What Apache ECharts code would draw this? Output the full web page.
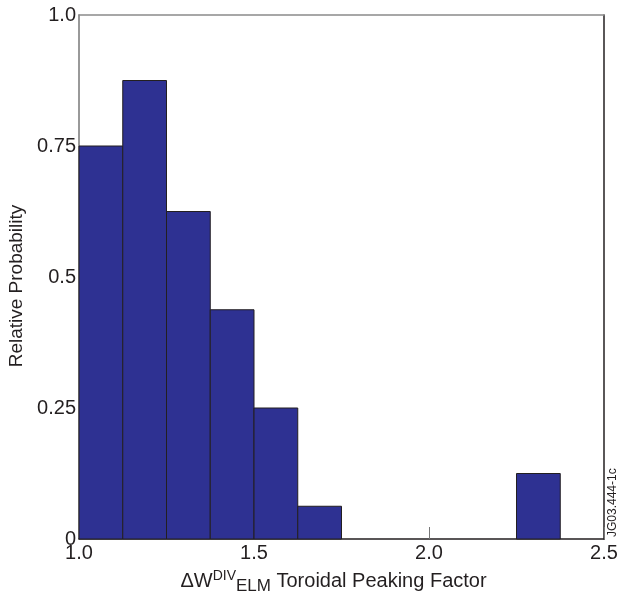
<!DOCTYPE html>
<html>
<head>
<meta charset="utf-8">
<script src="https://cdn.jsdelivr.net/npm/echarts@6/dist/echarts.min.js"></script>
<style>
  html, body { margin: 0; padding: 0; background: #fff; }
  #chart { width: 621px; height: 593px; }
</style>
</head>
<body>
<div id="chart"></div>
<script>
// Histogram bins of the toroidal peaking factor: left edge, right edge, relative probability
const binStart = [1.0, 1.125, 1.25, 1.375, 1.5, 1.625, 2.25];
const binEnd   = [1.125, 1.25, 1.375, 1.5, 1.625, 1.75, 2.375];
const probability = [0.75, 0.875, 0.625, 0.4375, 0.25, 0.0625, 0.125];

const xTicks = [1.0, 1.5, 2.0, 2.5];
const yTickLabels = { 0: '0', 0.25: '0.25', 0.5: '0.5', 0.75: '0.75', 1: '1.0' };

const FONT = '"Liberation Sans", Arial, Helvetica, sans-serif';
const INK = '#231f20';
const barData = binStart.map((s, i) => [s, binEnd[i], probability[i]]);

const chart = echarts.init(document.getElementById('chart'), null, { renderer: 'canvas' });

chart.setOption({
  animation: false,
  backgroundColor: '#ffffff',
  grid: { left: 79, right: 17, top: 15, bottom: 54, containLabel: false, outerBoundsMode: 'none' },
  xAxis: [{
    type: 'value', min: 1.0, max: 2.5, interval: 0.5,
    axisLine: { lineStyle: { color: INK, width: 1.5 } },
    axisTick: { inside: true, length: 12, lineStyle: { color: '#777', width: 1 } },
    splitLine: { show: false },
    axisLabel: {
      margin: 4, fontFamily: FONT, fontSize: 20, color: INK,
      formatter: v => xTicks.includes(v) ? v.toFixed(1) : ''
    },
    name: '{n|ΔW}{sup|DIV}{sub|ELM}{n| Toroidal Peaking Factor}',
    nameLocation: 'middle', nameGap: 28,
    nameTextStyle: {
      fontFamily: FONT, color: INK, padding: [0, 16, 0, 0],
      rich: {
        n: { fontFamily: FONT, fontSize: 20, color: INK },
        sup: { fontFamily: FONT, fontSize: 14, color: INK, padding: [0, 0, 9, 0] },
        sub: { fontFamily: FONT, fontSize: 17, color: INK, padding: [11, 0, 0, 0] }
      }
    }
  }, {
    type: 'value', min: 1.0, max: 2.5, position: 'top',
    axisLine: { show: true, onZero: false, lineStyle: { color: '#8a8a8a', width: 1.5 } },
    axisTick: { show: false }, axisLabel: { show: false }, splitLine: { show: false }
  }],
  yAxis: [{
    type: 'value', min: 0, max: 1, interval: 0.25,
    axisLine: { show: true, onZero: false, lineStyle: { color: '#777', width: 1.5 } },
    axisTick: { show: false },
    splitLine: { show: false },
    axisLabel: {
      margin: 3, fontFamily: FONT, fontSize: 20, color: INK,
      formatter: v => yTickLabels[v] !== undefined ? yTickLabels[v] : ''
    },
    name: 'Relative Probability', nameLocation: 'middle', nameGap: 52,
    nameTextStyle: { fontFamily: FONT, fontSize: 19, color: INK, padding: [0, 18, 0, 0] }
  }, {
    type: 'value', min: 0, max: 1, position: 'right',
    axisLine: { show: true, onZero: false, lineStyle: { color: INK, width: 1.5 } },
    axisTick: { show: false }, axisLabel: { show: false }, splitLine: { show: false }
  }],
  series: [{
    type: 'custom',
    xAxisIndex: 0, yAxisIndex: 0,
    data: barData,
    encode: { x: [0, 1], y: 2 },
    renderItem: function (params, api) {
      const p0 = api.coord([api.value(0), api.value(2)]);
      const p1 = api.coord([api.value(1), 0]);
      return {
        type: 'rect',
        shape: { x: p0[0], y: p0[1], width: p1[0] - p0[0], height: p1[1] - p0[1] },
        style: { fill: '#2e3192', stroke: INK, lineWidth: 1 }
      };
    }
  }],
  graphic: [{
    type: 'text', x: 607, y: 537, rotation: Math.PI / 2, z: 10,
    style: {
      text: 'JG03.444-1c', fontFamily: FONT, fontSize: 12, fill: INK,
      align: 'left', verticalAlign: 'top'
    }
  }]
});
</script>
</body>
</html>
